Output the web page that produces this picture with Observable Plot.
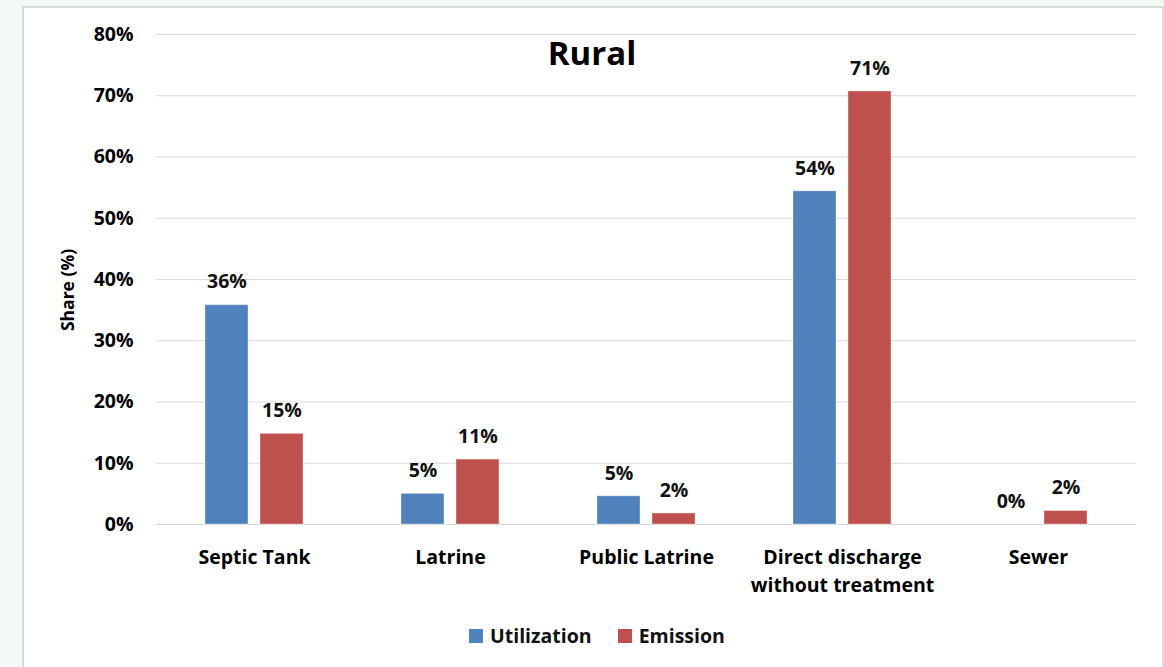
<!DOCTYPE html>
<html>
<head>
<meta charset="utf-8">
<script src="https://cdn.jsdelivr.net/npm/d3@7"></script>
<script src="https://cdn.jsdelivr.net/npm/@observablehq/plot@0.6"></script>
<style>
  html, body { margin: 0; padding: 0; background: #f3f8f5; width: 1164px; height: 667px; overflow: hidden; }
  #wrap { position: relative; width: 1164px; height: 667px; font-family: "Open Sans", sans-serif; }
  #panel { position: absolute; left: 22px; top: 6px; width: 1142px; height: 700px; background: #fff; border: 2px solid #d9d9d9; box-sizing: border-box; }
  #chart { position: absolute; left: 0; top: 0; }
  #title { position: absolute; left: 0; width: 1184px; top: 30px; text-align: center; font-size: 33px; font-weight: 700; color: #000; line-height: 46px; }
  #legend { position: absolute; top: 622px; left: 469px; display: flex; align-items: center; font-size: 19.5px; font-weight: 700; color: #111; }
  .sw { width: 14px; height: 14px; display: inline-block; margin-right: 7px; }
  .item { display: flex; align-items: center; margin-right: 26px; }
</style>
</head>
<body>
<div id="wrap">
  <div id="panel"></div>
  <div id="chart"></div>
  <div id="title">Rural</div>
  <div id="legend"></div>
</div>
<script>
const categories = ["Septic Tank", "Latrine", "Public Latrine", "Direct discharge\nwithout treatment", "Sewer"];
const seriesNames = ["Utilization", "Emission"];
const utilization = [0.358, 0.050, 0.046, 0.544, 0.000];
const emission = [0.148, 0.106, 0.018, 0.707, 0.022];
const colors = ["#4f81bd", "#c0504d"];
const yTicks = [0, 0.1, 0.2, 0.3, 0.4, 0.5, 0.6, 0.7, 0.8];

const data = [];
categories.forEach((c, i) => {
  data.push({category: c, series: seriesNames[0], value: utilization[i]});
  data.push({category: c, series: seriesNames[1], value: emission[i]});
});

const pct = d => Math.round(d * 100) + "%";
const font = "Open Sans, sans-serif";

const chart = Plot.plot({
  width: 1164,
  height: 610,
  marginLeft: 154,
  marginRight: 27,
  marginTop: 34,
  marginBottom: 86,
  style: {fontFamily: font, background: "transparent", color: "#000"},
  fx: {domain: categories, padding: 0, label: null, axis: null},
  x: {domain: seriesNames, paddingInner: 0.214, paddingOuter: 0.862, axis: null},
  y: {domain: [0, 0.8], ticks: yTicks, label: null, axis: null},
  color: {domain: seriesNames, range: colors},
  marks: [
    Plot.gridY(yTicks, {stroke: "#d9d9d9", strokeOpacity: 1, strokeWidth: 1.2}),
    Plot.axisY(yTicks, {tickSize: 0, tickPadding: 23, tickFormat: pct, fontSize: 19.5, fontWeight: 700, label: null}),
    Plot.axisFx({anchor: "bottom", tickSize: 0, tickPadding: 19, fontSize: 19.5, fontWeight: 700, lineHeight: 1.45, label: null}),
    Plot.barY(data, {fx: "category", x: "series", y: "value", fill: "series", stroke: "#ffffff", strokeOpacity: 0.35, strokeWidth: 1}),
    Plot.text(data, {fx: "category", x: "series", y: "value", text: d => pct(d.value), dy: -23, fontSize: 19.5, fontWeight: 700, fill: "#111"})
  ]
});

// y-axis title
const svg = d3.select(chart);
svg.append("text")
  .attr("transform", "translate(74,290) rotate(-90)")
  .attr("text-anchor", "middle")
  .attr("font-family", font)
  .attr("font-weight", 700)
  .attr("font-size", 17.5)
  .attr("fill", "#000")
  .text("Share (%)");

document.getElementById("chart").appendChild(chart);

const legend = document.getElementById("legend");
seriesNames.forEach((s, i) => {
  const item = document.createElement("div");
  item.className = "item";
  const sw = document.createElement("span");
  sw.className = "sw";
  sw.style.background = colors[i];
  item.appendChild(sw);
  item.appendChild(document.createTextNode(s));
  legend.appendChild(item);
});
</script>
</body>
</html>
